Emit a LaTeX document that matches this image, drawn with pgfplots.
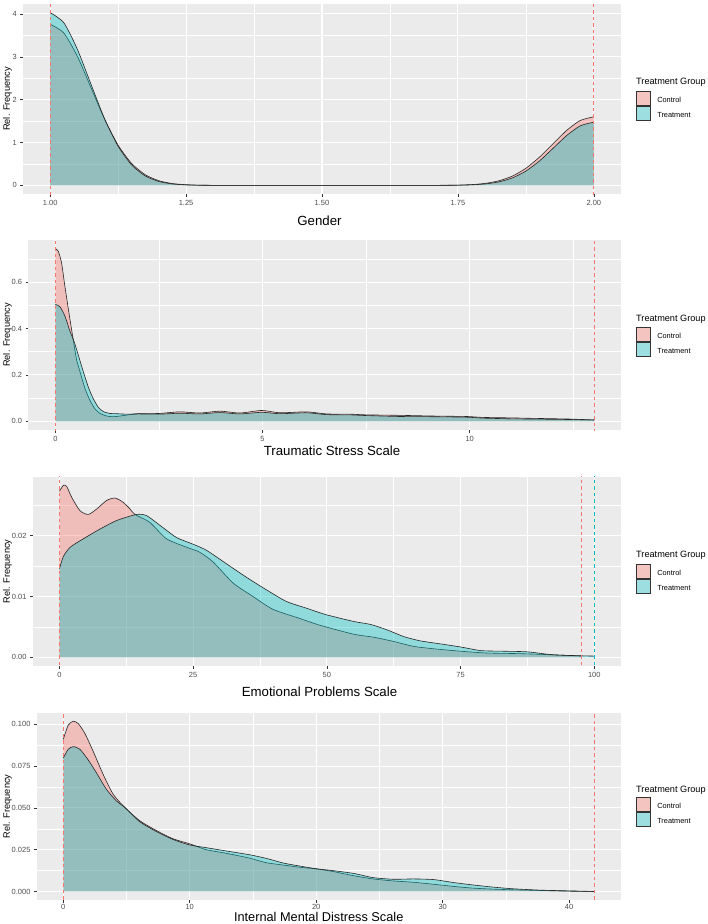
\documentclass[border=0pt]{standalone}
\usepackage{fontspec}
\setmainfont{Liberation Sans}
\usepackage{pgfplots}
\usepackage{pgfplotstable}
\pgfplotsset{compat=1.18}
\definecolor{ggbg}{HTML}{EBEBEB}
\definecolor{ggctrl}{HTML}{F8766D}
\definecolor{ggtrt}{HTML}{00BFC4}
\definecolor{ggctrlkey}{HTML}{F4C4C0}
\definecolor{ggtrtkey}{HTML}{9DDFE1}
\definecolor{ggtick}{HTML}{333333}
\definecolor{gglab}{HTML}{4D4D4D}

\pgfplotsset{
 ggpanel/.style={
   scale only axis,
   axis background/.style={fill=ggbg},
   axis line style={draw=none},
   grid=both,
   major grid style={white, line width=1.05bp},
   minor grid style={white, line width=0.5bp},
   tick align=outside,
   major tick length=2.75bp,
   minor tick length=0pt,
   tick style={ggtick, line width=0.5bp},
   tick label style={font=\fontsize{7.5}{8}\selectfont, text=gglab},
   xtick pos=left, ytick pos=left,
   scaled x ticks=false, scaled y ticks=false,
   /pgf/number format/assume math mode=true,
   legend style={draw=none, fill=none, inner sep=0pt, outer sep=0pt, row sep=0pt,
     font=\fontsize{7.4}{8}\selectfont, anchor=north west, cells={anchor=west}},
   legend cell align=left,
   legend image code/.code={\draw[##1] (0bp,-4.6bp) rectangle (14bp,9.4bp); \path[draw=none,fill=none] (0bp,0bp) -- (19.3bp,0bp);},
 },
 ctrlfill/.style={fill=ggctrl, fill opacity=0.38, draw=none, forget plot, smooth, tension=0.4},
 trtfill/.style={fill=ggtrt, fill opacity=0.38, draw=none, forget plot, smooth, tension=0.4},
 dens/.style={black!85, line width=0.6bp, forget plot, smooth, tension=0.4},
 vctrl/.style={ggctrl, line width=1bp, dash pattern=on 3.5bp off 3bp, forget plot},
 vtrt/.style={ggtrt, line width=1bp, dash pattern=on 3.5bp off 3bp, forget plot},
 keyctrl/.style={fill=ggctrlkey, draw=black!80, line width=0.6bp},
 keytrt/.style={fill=ggtrtkey, draw=black!80, line width=0.6bp},
}

% ---------- Gender ----------
\pgfplotstableread{
x y
1.000 3.760
1.025 3.557
1.050 3.012
1.075 2.282
1.100 1.545
1.125 0.936
1.150 0.508
1.175 0.247
1.200 0.108
1.225 0.042
1.250 0.015
1.275 0.005
1.300 0.001
1.350 0.000
1.500 0.000
1.650 0.000
1.700 0.001
1.725 0.002
1.750 0.006
1.775 0.018
1.800 0.046
1.825 0.105
1.850 0.216
1.875 0.398
1.900 0.658
1.925 0.971
1.950 1.282
1.975 1.514
2.000 1.600
}\gC
\pgfplotstableread{
x y
1.000 4.030
1.025 3.796
1.050 3.176
1.075 2.362
1.100 1.556
1.125 0.911
1.150 0.474
1.175 0.219
1.200 0.090
1.225 0.033
1.250 0.011
1.275 0.003
1.300 0.001
1.350 0.000
1.500 0.000
1.650 0.000
1.700 0.000
1.725 0.001
1.750 0.004
1.775 0.012
1.800 0.033
1.825 0.080
1.850 0.173
1.875 0.333
1.900 0.569
1.925 0.864
1.950 1.162
1.975 1.389
2.000 1.475
}\gT

% ---------- Traumatic Stress ----------
\pgfplotstableread{
x y
0.00 0.744
0.07 0.733
0.15 0.683
0.23 0.583
0.34 0.454
0.43 0.354
0.51 0.268
0.60 0.211
0.72 0.139
0.84 0.089
0.96 0.053
1.08 0.034
1.24 0.023
1.40 0.020
1.56 0.023
1.72 0.027
2.00 0.033
2.50 0.034
3.00 0.041
3.49 0.036
3.97 0.044
4.45 0.036
4.98 0.047
5.42 0.037
6.06 0.041
6.55 0.032
7.11 0.031
7.51 0.028
8.31 0.026
9.11 0.023
9.92 0.021
10.32 0.017
11.00 0.015
11.52 0.013
12.40 0.010
13.00 0.006
}\tC
\pgfplotstableread{
x y
0.00 0.504
0.11 0.494
0.23 0.454
0.35 0.390
0.46 0.340
0.56 0.282
0.68 0.211
0.80 0.146
0.92 0.096
1.04 0.060
1.16 0.042
1.32 0.034
1.48 0.033
1.72 0.031
2.00 0.032
2.50 0.031
3.00 0.035
3.49 0.032
3.97 0.038
4.45 0.032
4.98 0.039
5.42 0.033
6.06 0.037
6.55 0.029
7.11 0.028
7.51 0.025
8.31 0.021
9.11 0.020
9.92 0.018
10.32 0.014
11.00 0.011
11.52 0.010
12.40 0.008
13.00 0.006
}\tT

% ---------- Emotional Problems ----------
\pgfplotstableread{
x y
0.00 0.0273
0.75 0.0283
1.37 0.0281
2.30 0.0263
3.86 0.0241
5.41 0.0235
6.97 0.0244
8.83 0.0258
10.4 0.0262
11.9 0.0255
13.2 0.0244
14.1 0.0235
16.9 0.0222
20.0 0.0195
23.8 0.0181
26.2 0.0173
28.7 0.0157
32.5 0.0122
36.2 0.0100
39.9 0.0079
44.9 0.0064
48.6 0.0053
55.0 0.0038
58.8 0.0033
62.5 0.0026
66.2 0.0018
70.0 0.0014
75.0 0.0010
80.0 0.0007
86.2 0.0006
92.5 0.0004
97.7 0.0002
}\eC
\pgfplotstableread{
x y
0.00 0.0146
0.75 0.0166
2.00 0.0181
4.48 0.0195
7.59 0.0211
10.7 0.0225
14.4 0.0235
16.3 0.0233
18.8 0.0217
21.9 0.0197
25.0 0.0186
27.5 0.0176
31.2 0.0154
34.9 0.0132
38.7 0.0111
42.4 0.0092
46.1 0.0081
49.9 0.0070
55.0 0.0059
58.2 0.0054
61.3 0.0045
64.4 0.0034
67.5 0.0027
71.3 0.0022
75.0 0.0017
78.8 0.0011
83.1 0.0010
87.5 0.0009
92.5 0.0004
100.0 0.0002
}\eT

% ---------- Internal Mental Distress ----------
\pgfplotstableread{
x y
0.00 0.0909
0.39 0.0994
0.79 0.1018
1.18 0.1004
1.71 0.0945
2.37 0.0837
3.16 0.0699
3.95 0.0581
4.87 0.0502
6.05 0.0423
7.37 0.0364
8.68 0.0315
10.0 0.0285
11.3 0.0250
12.9 0.0228
14.7 0.0200
16.05 0.0172
17.4 0.0158
18.7 0.0145
20.0 0.0135
21.3 0.0120
22.96 0.0094
24.5 0.0075
26.1 0.0063
27.7 0.0055
29.3 0.0043
30.9 0.0030
32.4 0.0020
34.0 0.0014
35.6 0.0010
37.7 0.0006
39.8 0.0002
42.0 0.0000
}\iC
\pgfplotstableread{
x y
0.00 0.0797
0.39 0.0850
0.79 0.0866
1.32 0.0850
1.97 0.0787
2.63 0.0709
3.42 0.0610
4.21 0.0541
4.87 0.0502
6.05 0.0417
7.37 0.0358
8.68 0.0311
10.0 0.0278
11.3 0.0262
12.9 0.0242
14.7 0.0220
16.05 0.0198
17.4 0.0170
18.7 0.0152
20.0 0.0136
21.3 0.0125
22.96 0.0108
24.5 0.0083
26.1 0.0073
27.7 0.0075
29.3 0.0071
30.9 0.0053
32.4 0.0039
34.0 0.0026
35.6 0.0016
37.7 0.0008
39.8 0.0004
42.0 0.0000
}\iT

\begin{document}
\begin{tikzpicture}
\useasboundingbox[fill=white] (0bp,0bp) rectangle (708bp,-924bp);

% ===== Panel 1 =====
\begin{axis}[ggpanel, at={(23bp,-194bp)}, anchor=south west, width=598bp, height=190bp,
  xmin=0.95, xmax=2.05, ymin=-0.2015, ymax=4.2315,
  xtick={1,1.25,1.5,1.75,2}, xticklabels={1.00,1.25,1.50,1.75,2.00},
  minor xtick={1.125,1.375,1.625,1.875},
  ytick={0,1,2,3,4}, yticklabels={0,1,2,3,4}, minor ytick={0.5,1.5,2.5,3.5},
  legend style={at={(1.0246,0.5437)}}]
\addplot[ctrlfill] table {\gC} \closedcycle;
\addplot[dens] table {\gC};
\addplot[trtfill] table {\gT} \closedcycle;
\addplot[dens] table {\gT};
\addplot[vctrl] coordinates {(1,-1) (1,5)};
\addplot[vctrl] coordinates {(2,-1) (2,5)};
\addlegendimage{keyctrl}\addlegendentry{Control}
\addlegendimage{keytrt}\addlegendentry{Treatment}
\end{axis}

% ===== Panel 2 =====
\begin{axis}[ggpanel, at={(28.4bp,-430bp)}, anchor=south west, width=592.6bp, height=190bp,
  xmin=-0.65, xmax=13.65, ymin=-0.0372, ymax=0.7812,
  xtick={0,5,10}, xticklabels={0,5,10}, minor xtick={2.5,7.5,12.5},
  ytick={0,0.2,0.4,0.6}, yticklabels={0.0,0.2,0.4,0.6}, minor ytick={0.1,0.3,0.5,0.7},
  legend style={at={(1.0248,0.542)}}]
\addplot[ctrlfill] table {\tC} \closedcycle;
\addplot[dens] table {\tC};
\addplot[trtfill] table {\tT} \closedcycle;
\addplot[dens] table {\tT};
\addplot[vctrl] coordinates {(0,-1) (0,2)};
\addplot[vctrl] coordinates {(13,-1) (13,2)};
\addlegendimage{keyctrl}\addlegendentry{Control}
\addlegendimage{keytrt}\addlegendentry{Treatment}
\end{axis}

% ===== Panel 3 =====
\begin{axis}[ggpanel, at={(32.7bp,-666bp)}, anchor=south west, width=588.3bp, height=189.3bp,
  xmin=-5, xmax=105, ymin=-0.00142, ymax=0.02972,
  xtick={0,25,50,75,100}, xticklabels={0,25,50,75,100}, minor xtick={12.5,37.5,62.5,87.5},
  ytick={0,0.01,0.02}, yticklabels={0.00,0.01,0.02}, minor ytick={0.005,0.015,0.025},
  legend style={at={(1.025,0.539)}}]
\addplot[ctrlfill] table {\eC} \closedcycle;
\addplot[dens] table {\eC};
\addplot[trtfill] table {\eT} \closedcycle;
\addplot[dens] table {\eT};
\addplot[vctrl] coordinates {(0,-1) (0,1)};
\addplot[vctrl] coordinates {(97.7,-1) (97.7,1)};
\addplot[vtrt] coordinates {(100,-1) (100,1)};
\addlegendimage{keyctrl}\addlegendentry{Control}
\addlegendimage{keytrt}\addlegendentry{Treatment}
\end{axis}

% ===== Panel 4 =====
\begin{axis}[ggpanel, at={(36.7bp,-900bp)}, anchor=south west, width=584.3bp, height=187.3bp,
  xmin=-2.1, xmax=44.1, ymin=-0.00509, ymax=0.1069,
  xtick={0,10,20,30,40}, xticklabels={0,10,20,30,40}, minor xtick={5,15,25,35},
  xticklabel style={inner sep=1.5bp},
  ytick={0,0.025,0.05,0.075,0.1}, yticklabels={0.000,0.025,0.050,0.075,0.100},
  minor ytick={0.0125,0.0375,0.0625,0.0875},
  legend style={at={(1.0251,0.551)}}]
\addplot[ctrlfill] table {\iC} \closedcycle;
\addplot[dens] table {\iC};
\addplot[trtfill] table {\iT} \closedcycle;
\addplot[dens] table {\iT};
\addplot[vctrl] coordinates {(0,-1) (0,1)};
\addplot[vctrl] coordinates {(42,-1) (42,1)};
\addlegendimage{keyctrl}\addlegendentry{Control}
\addlegendimage{keytrt}\addlegendentry{Treatment}
\end{axis}

% ===== titles =====
\begin{scope}[every node/.style={inner sep=0pt}]
\node[anchor=base, font=\fontsize{13.3}{15}\selectfont] at (319.5bp,-225bp) {Gender};
\node[anchor=base, font=\fontsize{13.3}{15}\selectfont] at (332bp,-455bp) {Traumatic Stress Scale};
\node[anchor=base, font=\fontsize{13.3}{15}\selectfont] at (319.5bp,-696bp) {Emotional Problems Scale};
\node[anchor=base, font=\fontsize{12.8}{15}\selectfont] at (318.7bp,-921bp) {Internal Mental Distress Scale};
\foreach \yy in {99,335,571.4,806.3}{
  \node[rotate=90, font=\fontsize{9.3}{11}\selectfont] at (7.5bp,-\yy bp) {Rel. Frequency};
}
\foreach \yy in {82.3,319.5,555,790.7}{
  \node[anchor=west, font=\fontsize{9.2}{11}\selectfont] at (636bp,-\yy bp) {Treatment Group};
}
\end{scope}
\end{tikzpicture}
\end{document}
